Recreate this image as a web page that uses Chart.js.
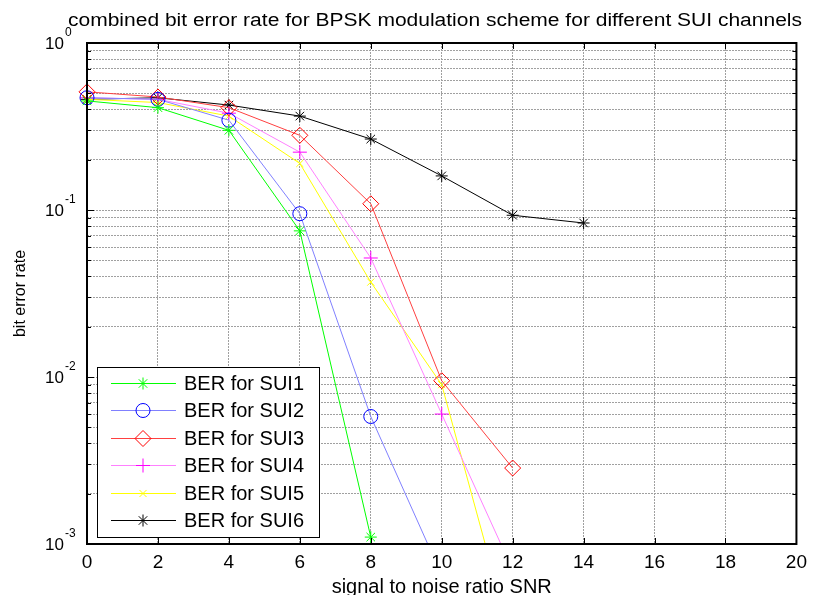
<!DOCTYPE html>
<html>
<head>
<meta charset="utf-8">
<title>combined bit error rate for BPSK</title>
<script src="https://cdn.jsdelivr.net/npm/chart.js@4.4.1/dist/chart.umd.min.js"></script>
<style>
  html, body { margin: 0; padding: 0; background: #fff; }
  #wrap { width: 814px; height: 595px; }
</style>
</head>
<body>
<div id="wrap"><canvas id="ber" width="814" height="595"></canvas></div>
<script>
// SNR points (dB) and the measured BER per SUI channel
const snr = [0, 2, 4, 6, 8, 10, 12, 14];
const sui1 = [0.45, 0.41, 0.30, 0.075, 0.0011];
const sui2 = [0.47, 0.46, 0.345, 0.095, 0.0058, 0.00065];
const sui3 = [0.51, 0.475, 0.41, 0.28, 0.109, 0.0095, 0.00285];
const sui4 = [0.47, 0.46, 0.38, 0.222, 0.0516, 0.006, 0.0007];
const sui5 = [0.46, 0.44, 0.365, 0.19, 0.037, 0.009, 0.00025];
const sui6 = [0.46, 0.47, 0.425, 0.365, 0.266, 0.16, 0.093, 0.0836];

const decades = [1e-3, 1e-2, 1e-1, 1];
const xTicks = [0, 2, 4, 6, 8, 10, 12, 14, 16, 18, 20];

const titleText = "combined bit error rate for BPSK modulation scheme for different SUI channels";
const FONT = 'Arial, "Liberation Sans", Helvetica, sans-serif';

function series(label, values, line, marker, style, radius) {
    return {
        label: label,
        data: values.map((v, i) => ({ x: snr[i], y: v })),
        borderColor: line,
        borderWidth: 1,
        pointStyle: style,
        pointRadius: radius,
        pointBorderColor: marker,
        pointBackgroundColor: 'rgba(0,0,0,0)',
        pointBorderWidth: 1,
        tension: 0,
        fill: false,
        clip: { left: 10, right: 10, top: 10, bottom: 0 }
    };
}

const datasets = [
    series("BER for SUI1", sui1, "#00ff00", "#00ff00", "star", 6),
    series("BER for SUI2", sui2, "#8080ff", "#0000ff", "circle", 7),
    series("BER for SUI3", sui3, "#ff4040", "#ff0000", "rectRot", 8),
    series("BER for SUI4", sui4, "#ff80ff", "#ff00ff", "cross", 7),
    series("BER for SUI5", sui5, "#ffff00", "#ffff00", "crossRot", 5),
    series("BER for SUI6", sui6, "#000000", "#000000", "star", 6)
];

// minor log ticks 1..9 per decade
function logTicks() {
    const out = [];
    decades.forEach((d, i) => {
        if (i === decades.length - 1) { out.push({ value: d, major: true }); return; }
        for (let m = 1; m < 10; m++) out.push({ value: d * m, major: m === 1 });
    });
    return out;
}

function line(ctx, x1, y1, x2, y2) {
    ctx.beginPath();
    ctx.moveTo(x1, y1);
    ctx.lineTo(x2, y2);
    ctx.stroke();
}

const matlabDecor = {
    id: 'matlabDecor',
    afterDraw(chart) {
        const { ctx, chartArea: a, scales } = chart;
        const x = scales.x, y = scales.y;
        ctx.save();

        // inner tick marks, as MATLAB draws them
        ctx.strokeStyle = '#000';
        ctx.lineWidth = 1;
        xTicks.forEach(v => {
            const px = Math.round(x.getPixelForValue(v)) + 0.5;
            line(ctx, px, a.bottom, px, a.bottom - 6);
            line(ctx, px, a.top, px, a.top + 6);
        });
        y.ticks.forEach(t => {
            const py = Math.round(y.getPixelForValue(t.value)) + 0.5;
            const len = t.major ? 7 : 4;
            line(ctx, a.left, py, a.left + len, py);
            line(ctx, a.right, py, a.right - len, py);
        });

        // box
        ctx.lineWidth = 2;
        ctx.strokeRect(a.left, a.top, a.right - a.left, a.bottom - a.top);

        // y tick labels 10^n
        ctx.fillStyle = '#000';
        ctx.textBaseline = 'middle';
        ctx.textAlign = 'left';
        decades.forEach(d => {
            const py = y.getPixelForValue(d);
            const exp = String(Math.round(Math.log10(d)));
            ctx.font = '17px ' + FONT;
            ctx.fillText('10', 45, py + 1);
            const w = ctx.measureText('10').width;
            ctx.font = '12px ' + FONT;
            ctx.fillText(exp, 45 + w + 1, py - 10);
        });

        // title
        ctx.font = '18px ' + FONT;
        ctx.textBaseline = 'alphabetic';
        const tw = ctx.measureText(titleText).width;
        const sx = 734 / tw;
        ctx.save();
        ctx.translate(68, 26);
        ctx.scale(sx, 1);
        ctx.fillText(titleText, 0, 0);
        ctx.restore();

        // legend inside the axes, lower left
        const lx = a.left + 10, lw = 222, lh = 170;
        const ly = a.bottom - 7 - lh;
        ctx.fillStyle = '#fff';
        ctx.fillRect(lx, ly, lw, lh);
        ctx.strokeStyle = '#000';
        ctx.lineWidth = 1;
        ctx.strokeRect(lx + 0.5, ly + 0.5, lw, lh);
        ctx.font = '20px ' + FONT;
        ctx.textBaseline = 'middle';
        chart.data.datasets.forEach((ds, i) => {
            const ry = Math.round(ly + 16 + i * 27.4) + 0.5;
            ctx.strokeStyle = ds.borderColor;
            ctx.lineWidth = 1;
            line(ctx, lx + 14, ry, lx + 79, ry);
            ctx.strokeStyle = ds.pointBorderColor;
            ctx.fillStyle = 'rgba(0,0,0,0)';
            Chart.helpers.drawPoint(ctx, {
                pointStyle: ds.pointStyle, radius: ds.pointRadius, rotation: 0, borderWidth: 1
            }, lx + 46, ry);
            ctx.fillStyle = '#000';
            ctx.fillText(ds.label, lx + 87, ry + 1);
        });

        ctx.restore();
    }
};

const chart = new Chart(document.getElementById('ber'), {
    type: 'line',
    data: { datasets: datasets },
    plugins: [matlabDecor],
    options: {
        responsive: false,
        animation: false,
        layout: { padding: { top: 43, right: 16, left: 11, bottom: 0 } },
        plugins: {
            legend: { display: false },
            title: { display: false },
            tooltip: { enabled: false }
        },
        scales: {
            x: {
                type: 'linear',
                min: 0,
                max: 20,
                afterBuildTicks: s => { s.ticks = xTicks.map(v => ({ value: v })); },
                afterFit: s => { s.height = 51; },
                ticks: { color: '#000', padding: 7, font: { family: FONT, size: 19 }, maxRotation: 0 },
                grid: { color: '#a0a0a0', drawTicks: false },
                border: { display: false, dash: [2, 1] },
                title: {
                    display: true,
                    text: 'signal to noise ratio SNR',
                    color: '#000',
                    font: { family: FONT, size: 20, lineHeight: 0.8 },
                    padding: 0
                }
            },
            y: {
                type: 'logarithmic',
                min: 1e-3,
                max: 1,
                afterBuildTicks: s => { s.ticks = logTicks(); },
                afterFit: s => { s.width = 76; },
                ticks: { display: false },
                grid: { color: '#a0a0a0', drawTicks: false },
                border: { display: false, dash: [2, 1] },
                title: {
                    display: true,
                    text: 'bit error rate',
                    color: '#000',
                    font: { family: FONT, size: 16 },
                    padding: 0
                }
            }
        }
    }
});
</script>
</body>
</html>
